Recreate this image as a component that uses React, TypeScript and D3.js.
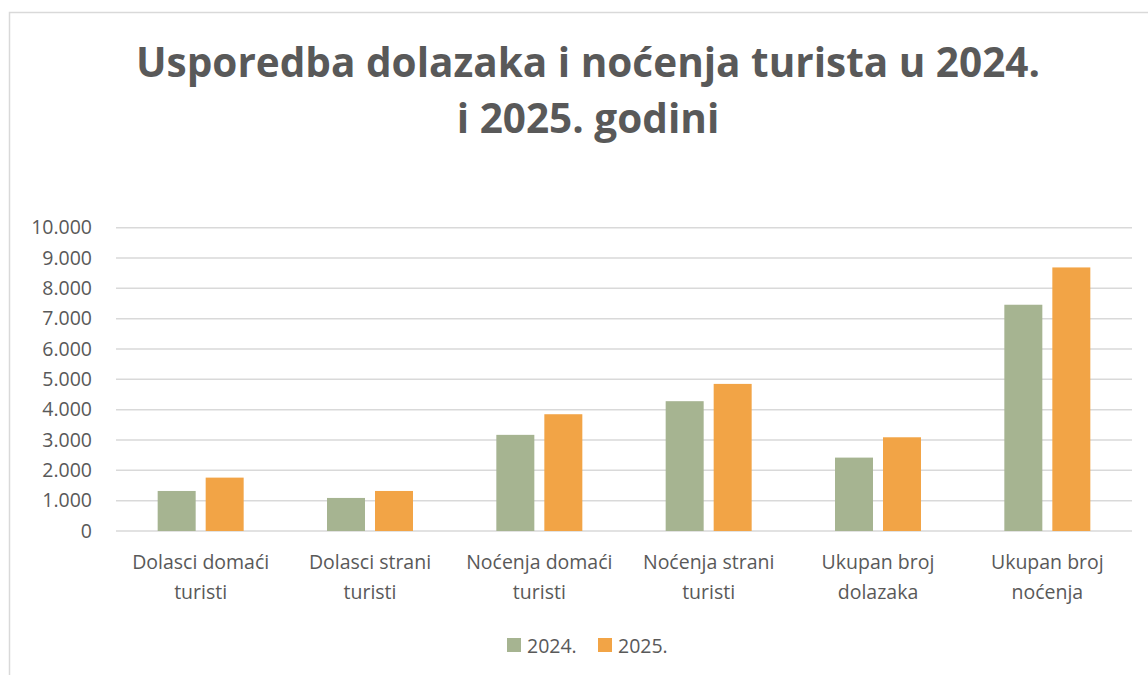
import React, { useEffect, useRef } from 'react';
import * as d3 from 'd3';

// Kategorije (dva retka po oznaci)
const categories = [
  ['Dolasci domaći', 'turisti'],
  ['Dolasci strani', 'turisti'],
  ['Noćenja domaći', 'turisti'],
  ['Noćenja strani', 'turisti'],
  ['Ukupan broj', 'dolazaka'],
  ['Ukupan broj', 'noćenja'],
];
const seriesNames = ['2024.', '2025.'];
const values2024 = [1320, 1090, 3170, 4280, 2420, 7460];
const values2025 = [1760, 1320, 3850, 4850, 3090, 8690];
const yTicks = [0, 1000, 2000, 3000, 4000, 5000, 6000, 7000, 8000, 9000, 10000];
const colors = ['#A6B491', '#F2A446'];

const W = 1148, H = 675;
const FONT = '"Open Sans", Calibri, sans-serif';
const SMALL = 19.5;

export default function App() {
  const ref = useRef<SVGSVGElement>(null);

  useEffect(() => {
    const svg = d3.select(ref.current);
    svg.selectAll('*').remove();

    // okvir grafikona
    svg.append('rect')
      .attr('x', 9.5).attr('y', 12.5)
      .attr('width', W + 20).attr('height', H + 20)
      .attr('fill', '#fff').attr('stroke', '#D9D9D9').attr('stroke-width', 1.5);

    // naslov
    const title = svg.append('text')
      .attr('text-anchor', 'middle')
      .attr('font-family', FONT).attr('font-weight', 700)
      .attr('font-size', 40.5).attr('fill', '#595959');
    title.append('tspan').attr('x', 588).attr('y', 77).text('Usporedba dolazaka i noćenja turista u 2024.');
    title.append('tspan').attr('x', 588).attr('y', 133).text('i 2025. godini');

    const left = 116, right = 1132, top = 227.7, bottom = 531;

    const x = d3.scaleBand<number>()
      .domain(d3.range(categories.length))
      .range([left, right]);

    const y = d3.scaleLinear().domain([0, 10000]).range([bottom, top]);

    const fmt = (v: number) => d3.format(',')(v).replace(/,/g, '.');

    // mreža
    svg.append('g')
      .selectAll('line')
      .data(yTicks)
      .enter()
      .append('line')
      .attr('x1', left).attr('x2', right)
      .attr('y1', d => y(d)).attr('y2', d => y(d))
      .attr('stroke', '#D9D9D9').attr('stroke-width', 1.5);

    // y os
    const yAxis = svg.append('g')
      .attr('transform', `translate(${left - 24}, 0)`)
      .call(d3.axisLeft(y).tickValues(yTicks).tickSize(0).tickPadding(0).tickFormat(d => fmt(+d)));
    yAxis.select('.domain').remove();
    yAxis.selectAll('text')
      .attr('font-family', FONT).attr('font-size', SMALL).attr('fill', '#595959');

    // stupci
    const barW = 38, gap = 10;
    const series = [values2024, values2025];
    series.forEach((vals, si) => {
      svg.append('g')
        .selectAll('rect')
        .data(vals)
        .enter()
        .append('rect')
        .attr('x', (d, i) => x(i)! + x.bandwidth() / 2 - barW - gap / 2 + si * (barW + gap))
        .attr('y', d => y(d))
        .attr('width', barW)
        .attr('height', d => bottom - y(d))
        .attr('fill', colors[si]);
    });

    // oznake kategorija
    const labels = svg.append('g')
      .selectAll('text')
      .data(categories)
      .enter()
      .append('text')
      .attr('text-anchor', 'middle')
      .attr('font-family', FONT).attr('font-size', SMALL).attr('fill', '#595959');
    labels.each(function (d, i) {
      const t = d3.select(this);
      d.forEach((line, li) => {
        t.append('tspan')
          .attr('x', x(i)! + x.bandwidth() / 2)
          .attr('y', 569 + li * 30)
          .text(line);
      });
    });

    // legenda
    const legendX = [507, 598];
    seriesNames.forEach((name, i) => {
      svg.append('rect')
        .attr('x', legendX[i]).attr('y', 638)
        .attr('width', 14).attr('height', 14)
        .attr('fill', colors[i]);
      svg.append('text')
        .attr('x', legendX[i] + 20).attr('y', 653)
        .attr('font-family', FONT).attr('font-size', SMALL).attr('fill', '#595959')
        .text(name);
    });
  }, []);

  return (
    <svg ref={ref} width={W} height={H}
         style={{ position: 'absolute', left: 0, top: 0, background: '#fff' }} />
  );
}
